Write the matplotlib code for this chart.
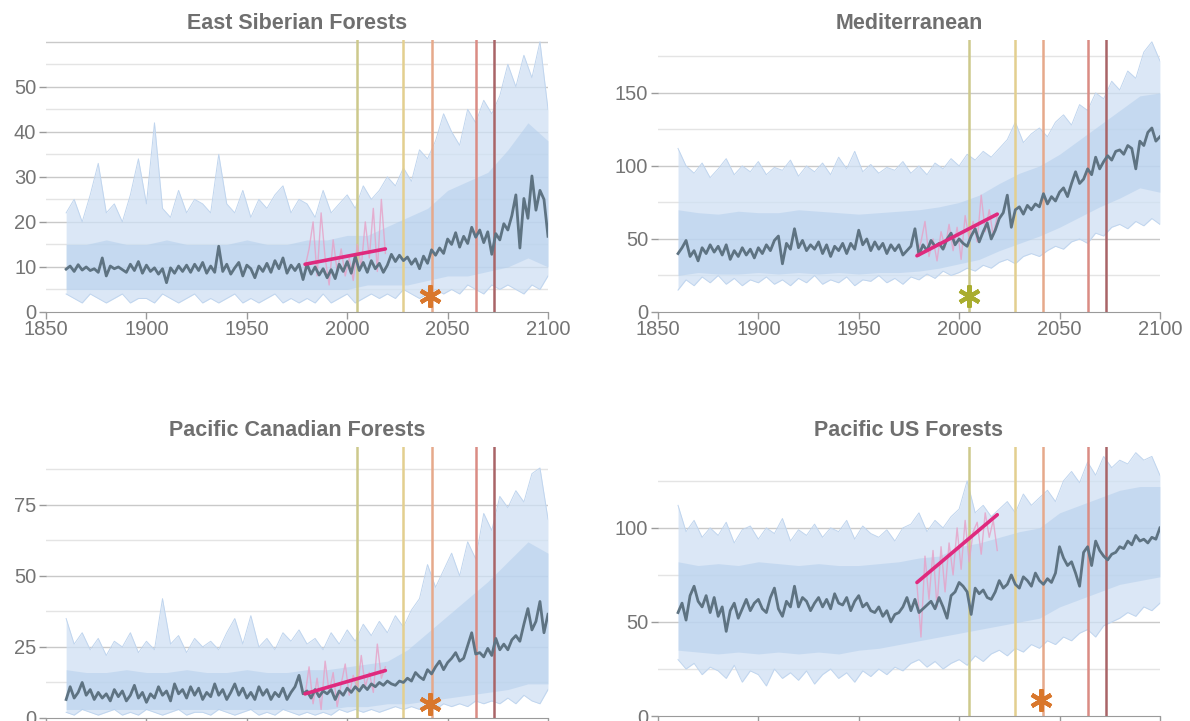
import matplotlib.pyplot as plt
import numpy as np

plt.rcParams['font.family'] = ['Liberation Sans', 'DejaVu Sans']

# year grids
years2 = np.arange(1860, 2101, 2)
years4 = np.arange(1860, 2101, 4)
years10 = np.arange(1860, 2101, 10)
obs_years = np.arange(1979, 2020, 2)

titles = ["East Siberian Forests", "Mediterranean",
          "Pacific Canadian Forests", "Pacific US Forests"]

# --- East Siberian Forests
sib_mean = [9.5, 10.2, 9.0, 10.5, 9.3, 10.0, 9.2, 9.6, 8.8, 12.0,
            8.0, 10.2, 9.6, 10.0, 9.4, 8.8, 10.6, 9.2, 11.2, 8.6,
            10.4, 9.0, 9.8, 8.4, 9.6, 6.5, 9.8, 8.6, 10.2, 9.0,
            10.4, 8.8, 10.6, 9.2, 11.0, 8.6, 10.2, 8.8, 14.6, 9.0,
            10.6, 8.4, 9.8, 11.0, 8.0, 10.4, 9.6, 7.6, 10.2, 9.0,
            10.8, 8.8, 11.4, 9.6, 12.0, 8.6, 10.4, 9.2, 10.6, 7.2,
            10.6, 8.4, 10.0, 8.2, 9.6, 7.6, 9.4, 7.4, 10.6, 9.0,
            11.2, 8.6, 12.4, 9.2, 11.0, 8.8, 11.4, 9.6, 10.8, 8.8,
            10.4, 12.8, 11.2, 12.6, 11.4, 12.2, 10.6, 11.8, 9.6, 12.4,
            10.8, 13.8, 12.6, 14.2, 13.0, 16.2, 15.0, 17.6, 14.4, 16.8,
            15.2, 18.8, 16.6, 18.2, 15.4, 17.8, 12.8, 17.4, 16.0, 19.6,
            18.2, 21.4, 26.0, 14.2, 25.2, 20.8, 30.2, 22.6, 27.0, 25.0,
            16.8]
sib_hi = [22, 25, 20, 26, 33, 22, 24, 20, 26, 34,
          24, 42, 23, 21, 27, 22, 25, 24, 22, 35,
          24, 22, 27, 21, 25, 23, 26, 28, 22, 25,
          24, 21, 27, 22, 24, 26, 23, 28, 25, 27,
          30, 28, 32, 29, 36, 34, 38, 44, 40, 37,
          45, 42, 47, 44, 48, 55, 50, 57, 52, 60,
          45]
sib_lo = [4, 3, 2, 4, 3, 2, 3, 4, 2, 3,
          3, 2, 4, 3, 2, 3, 4, 2, 3, 2,
          3, 4, 2, 3, 2, 3, 4, 2, 3, 2,
          3, 2, 4, 2, 3, 4, 2, 3, 4, 3,
          4, 3, 5, 4, 3, 4, 5, 4, 5, 4,
          6, 5, 4, 6, 5, 6, 5, 4, 6, 5,
          8]
sib_hi_in = [15, 15, 16, 15, 15, 16, 15, 15, 15, 16, 15, 15, 16,
             16, 17, 17, 19, 21, 23, 27, 29, 31, 36, 42, 38]
sib_lo_in = [5, 5, 5, 5, 5, 5, 5, 5, 5, 5, 5, 5, 5,
             5, 5, 6, 6, 6, 7, 8, 8, 9, 10, 12, 10]
sib_obs = [10, 14, 20, 8, 22, 12, 6, 16, 9, 14, 8,
           12, 7, 15, 10, 20, 12, 23, 9, 25, 13]
sib_trend = [10.6, 14.0]

# --- Mediterranean
med_mean = [40, 44, 49, 38, 42, 35, 44, 40, 46, 41,
            45, 39, 46, 36, 42, 38, 44, 39, 43, 37,
            44, 40, 46, 42, 49, 52, 33, 47, 43, 57,
            44, 49, 42, 46, 43, 48, 40, 46, 38, 45,
            42, 47, 40, 47, 43, 56, 46, 50, 42, 48,
            43, 47, 40, 46, 42, 46, 39, 42, 45, 57,
            39, 46, 42, 49, 45, 47, 43, 50, 54, 46,
            50, 47, 45, 52, 57, 48, 55, 61, 50, 56,
            64, 68, 80, 58, 70, 72, 67, 73, 70, 74,
            72, 81, 74, 79, 76, 82, 85, 79, 88, 96,
            88, 91, 98, 94, 106, 98, 103, 107, 104, 110,
            111, 108, 114, 112, 98, 117, 114, 123, 126, 117,
            120]
med_hi = [112, 100, 95, 102, 92, 98, 105, 94, 100, 96,
          103, 94, 99, 97, 104, 93, 100, 96, 102, 94,
          106, 98, 110, 96, 101, 95, 99, 97, 103, 95,
          100, 94, 102, 98, 105, 100, 108, 104, 110, 106,
          112, 118, 130, 116, 122, 126, 120, 130, 135, 128,
          142, 138, 150, 146, 158, 152, 165, 160, 178, 185,
          172]
med_lo = [15, 22, 18, 24, 20, 25, 19, 23, 18, 22,
          20, 24, 19, 22, 18, 23, 20, 25, 19, 22,
          20, 24, 18, 22, 21, 25, 20, 23, 19, 24,
          22, 26, 23, 28, 25, 27, 30, 28, 32, 30,
          34, 36, 33, 38, 40, 38, 42, 45, 43, 48,
          50, 47, 54, 52, 58, 60, 57, 62, 59, 64,
          60]
med_hi_in = [70, 68, 67, 69, 68, 68, 70, 69, 68, 67, 68, 69, 70,
             72, 75, 80, 88, 95, 100, 108, 118, 128, 138, 148, 150]
med_lo_in = [25, 27, 26, 26, 27, 26, 27, 26, 27, 26, 27, 27, 28,
             30, 33, 36, 42, 47, 52, 58, 65, 72, 78, 85, 82]
med_obs = [40, 48, 62, 38, 50, 35, 55, 44, 60, 42, 58,
           36, 66, 50, 62, 48, 80, 55, 70, 52, 66]
med_trend = [38.5, 67.0]

# --- Pacific Canadian Forests
can_mean = [6.5, 11, 7, 9, 12.5, 8, 10, 6.5, 9, 7,
            8.5, 6, 10, 7.5, 9.5, 6, 8, 11.5, 7, 9,
            5.5, 8.5, 7, 11, 8, 9.5, 6, 12, 8.5, 10,
            7, 11, 8, 10.5, 6.5, 9, 7.5, 12, 8, 10,
            6.5, 9, 12, 8, 10.5, 7, 9, 6.5, 11, 8,
            10, 6.5, 9, 7.5, 10.5, 6.5, 9, 11, 15, 8.5,
            9.5, 7, 10, 7.5, 9.5, 8.5, 10, 6.5, 9.5, 8,
            10.5, 9, 11, 9.5, 11.5, 10, 12, 11, 12.5, 11.5,
            13, 12, 11.5, 13, 12.5, 14, 13, 16, 14.5, 13.5,
            17, 15.5, 18, 20, 17, 19.5, 21, 23, 20, 21,
            25.5, 30, 22.5, 23, 21.5, 24.5, 22, 28, 24, 26,
            24, 27.5, 29, 27, 33, 38.5, 31, 34, 41, 30,
            36.5]
can_hi = [35, 26, 30, 24, 28, 22, 27, 25, 30, 23,
          27, 24, 42, 26, 29, 23, 28, 25, 27, 24,
          30, 35, 26, 36, 25, 28, 24, 30, 27, 31,
          26, 28, 24, 30, 26, 31, 27, 33, 29, 34,
          30, 36, 32, 38, 42, 54, 46, 52, 58, 50,
          62, 56, 72, 66, 78, 74, 80, 76, 86, 88,
          70]
can_lo = [2, 1, 3, 2, 1, 2, 3, 1, 2, 1,
          3, 2, 1, 2, 3, 1, 2, 2, 1, 3,
          2, 1, 2, 3, 1, 2, 1, 3, 2, 1,
          2, 1, 2, 1, 3, 2, 3, 2, 3, 2,
          3, 4, 3, 4, 3, 4, 3, 5, 4, 5,
          4, 6, 5, 6, 5, 7, 5, 8, 6, 5,
          10]
can_hi_in = [17, 16, 16, 17, 16, 16, 17, 16, 16, 17, 16, 16, 17,
             17, 18, 19, 20, 24, 30, 36, 42, 48, 55, 62, 58]
can_lo_in = [3, 3, 3, 3, 3, 3, 3, 3, 3, 3, 3, 3, 3,
             3, 4, 4, 5, 5, 6, 7, 8, 9, 10, 12, 12]
can_obs = [8, 18, 5, 14, 3, 20, 9, 16, 4, 12, 19,
           8, 15, 10, 22, 11, 16, 9, 26, 14, 18]
can_trend = [8.5, 16.7]

# --- Pacific US Forests
us_mean = [55, 60, 51, 64, 69, 61, 58, 64, 55, 63,
           53, 58, 45, 56, 60, 52, 57, 62, 56, 60,
           62, 57, 55, 63, 68, 57, 53, 61, 58, 69,
           58, 63, 61, 56, 60, 63, 58, 62, 57, 65,
           60, 59, 63, 56, 61, 64, 58, 60, 56, 55,
           58, 53, 56, 50, 54, 55, 58, 63, 56, 62,
           55, 57, 59, 61, 57, 63, 58, 52, 64, 66,
           71, 69, 66, 54, 68, 65, 67, 63, 62, 66,
           72, 68, 70, 75, 70, 68, 74, 72, 69, 76,
           72, 70, 73, 71, 76, 90, 84, 80, 82, 76,
           69, 87, 90, 80, 93, 88, 85, 83, 86, 87,
           90, 89, 93, 91, 96, 93, 94, 92, 95, 94,
           100]
us_hi = [112, 98, 104, 95, 100, 96, 103, 92, 99, 101,
         94, 100, 97, 105, 93, 99, 96, 102, 95, 100,
         98, 104, 94, 101, 97, 95, 99, 93, 100, 102,
         108, 98, 104, 100, 106, 110, 125, 108, 112, 106,
         110, 114, 108, 118, 112, 116, 120, 114, 125, 130,
         124, 135, 128, 138, 132, 136, 134, 140, 136, 138,
         128]
us_lo = [30, 25, 28, 22, 26, 24, 20, 27, 18, 24,
         22, 16, 25, 20, 23, 19, 24, 17, 22, 25,
         20, 23, 18, 24, 21, 25, 22, 26, 24, 28,
         30, 26, 29, 25, 28, 30, 27, 32, 29, 33,
         35, 32, 36, 34, 38, 36, 40, 38, 42, 40,
         44, 46, 42, 48, 50, 52, 55, 53, 58, 56,
         60]
us_hi_in = [82, 80, 81, 80, 82, 81, 80, 81, 80, 80, 81, 82, 84,
            85, 90, 92, 95, 98, 100, 108, 112, 116, 120, 122, 122]
us_lo_in = [35, 34, 33, 34, 33, 34, 33, 34, 33, 35, 36, 38, 40,
            42, 44, 46, 48, 50, 52, 58, 62, 66, 70, 72, 74]
us_obs = [70, 42, 85, 62, 88, 58, 90, 66, 92, 75, 100,
          78, 104, 82, 98, 103, 86, 108, 95, 104, 88]
us_trend = [71.0, 107.0]

trend_years = [1979, 2019]
event_years = [2005, 2028, 2042, 2064, 2073]
event_colors = ['#cdc98c', '#e3cf8f', '#e6a98b', '#da8c84', '#a96467']

star_year = [2041, 2005, 2041, 2041]
star_value = [3.5, 11, 5, 8.5]
star_color = ['#d9772c', '#a9ad2f', '#d9772c', '#d9772c']

y_top = [60.4, 186.3, 95.4, 143]
y_major = [10, 50, 25, 50]
y_maxlabel = [50, 150, 75, 100]

panels = [
    (sib_mean, sib_hi, sib_lo, sib_hi_in, sib_lo_in, sib_obs, sib_trend),
    (med_mean, med_hi, med_lo, med_hi_in, med_lo_in, med_obs, med_trend),
    (can_mean, can_hi, can_lo, can_hi_in, can_lo_in, can_obs, can_trend),
    (us_mean, us_hi, us_lo, us_hi_in, us_lo_in, us_obs, us_trend),
]

# axes positions [left, bottom, width, height] in figure fraction
positions = [
    [0.0387, 0.5673, 0.4218, 0.3773],
    [0.5529, 0.5673, 0.4218, 0.3773],
    [0.0387, 0.0042, 0.4218, 0.3759],
    [0.5529, 0.0069, 0.4218, 0.3731],
]

fig = plt.figure(figsize=(11.9, 7.21), dpi=100)

for i, (mean, hi, lo, hi_in, lo_in, obs, trend) in enumerate(panels):
    ax = fig.add_axes(positions[i])
    ax.set_xlim(1850, 2100)
    ax.set_ylim(0, y_top[i])

    step = y_major[i] / 2
    for v in np.arange(step, y_top[i], step):
        major = abs(v / y_major[i] - round(v / y_major[i])) < 1e-6
        ax.axhline(v, color='#c9c9c9' if major else '#e4e4e4',
                   lw=1.0, zorder=0)

    # model ensemble spread: outer envelope, then denser core
    ax.fill_between(years4, lo, hi, color='#cfe0f4', alpha=0.75,
                    lw=0, zorder=1)
    ax.plot(years4, hi, color='#c0d5ee', lw=0.7, zorder=1)
    ax.plot(years4, lo, color='#c0d5ee', lw=0.7, zorder=1)
    ax.fill_between(years10, lo_in, hi_in, color='#b0cceb', alpha=0.5,
                    lw=0, zorder=1)

    for yr, c in zip(event_years, event_colors):
        ax.axvline(yr, color=c, lw=1.8, zorder=2)

    ax.plot(obs_years, obs, color='#e7a0c6', lw=1.0, alpha=0.8, zorder=3)
    ax.plot(years2, mean, color='#5e7382', lw=2.0, zorder=4)
    ax.plot(trend_years, trend, color='#df2a7e', lw=2.6,
            solid_capstyle='round', zorder=5)

    ax.plot(star_year[i], star_value[i], marker=(6, 2, 0), markersize=16,
            mec=star_color[i], mew=3.0, zorder=6, clip_on=False)

    ax.set_title(titles[i], fontsize=15.5, fontweight='bold', color='#6f6f6f',
                 pad=8)

    for s in ['top', 'right', 'left']:
        ax.spines[s].set_visible(False)
    ax.spines['bottom'].set_color('#9a9a9a')
    ax.set_xticks(np.arange(1850, 2101, 50))
    ax.set_yticks(np.arange(0, y_maxlabel[i] + 1, y_major[i]))
    ax.tick_params(axis='both', colors='#9a9a9a', labelcolor='#747474',
                   labelsize=14.5, length=5, width=1)
    ax.tick_params(axis='x', pad=1)
    ax.tick_params(axis='y', pad=2)

fig.savefig('out.png', dpi=100)
